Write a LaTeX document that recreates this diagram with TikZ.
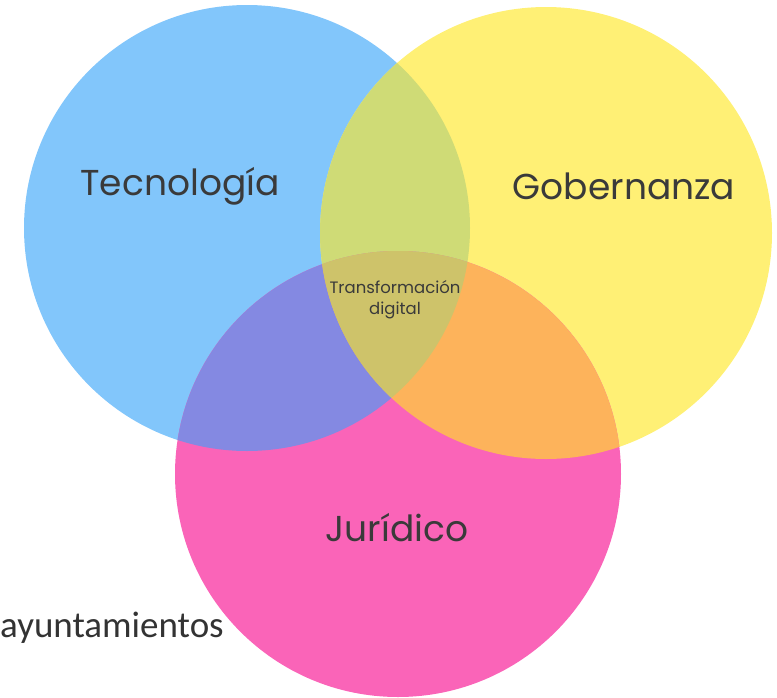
\documentclass[tikz,border=0pt]{standalone}
\usepackage{fontspec}
\setmainfont{Poppins}
\newfontfamily\calibrifont{Carlito}
\usepackage{tikz}
\usetikzlibrary{positioning}

\definecolor{tecblue}{HTML}{82C6FB}
\definecolor{gobyellow}{HTML}{FFF075}
\definecolor{jurpink}{HTML}{FA64B8}
\definecolor{tecgob}{HTML}{CFDB76}
\definecolor{tecjur}{HTML}{8489E2}
\definecolor{gobjur}{HTML}{FDB35B}
\definecolor{allthree}{HTML}{CEC36A}
\definecolor{labelgray}{HTML}{3A3A3A}

\begin{document}
\begin{tikzpicture}[x=1pt,y=-1pt,
		biglabel/.style={text=labelgray,font=\fontsize{36}{36}\selectfont,anchor=base,inner sep=0pt},
		smalllabel/.style={text=labelgray,font=\fontsize{16.5}{16.5}\selectfont,anchor=base,inner sep=0pt}]
		\useasboundingbox (0,0) rectangle (777,697);
		\def\tecc{(247,228) circle (223)}
		\def\gobc{(546,233) circle (226)}
		\def\jurc{(398,474) circle (223)}
		\fill[tecblue] \tecc;
		\fill[gobyellow] \gobc;
		\fill[jurpink] \jurc;
		\begin{scope}%tec y gob
			\clip \tecc;
			\fill[tecgob] \gobc;
		\end{scope}
		\begin{scope}%tec y jur
			\clip \tecc;
			\fill[tecjur] \jurc;
		\end{scope}
		\begin{scope}%gob y jur
			\clip \gobc;
			\fill[gobjur] \jurc;
		\end{scope}
		\begin{scope}%los tres
			\clip \tecc;
			\clip \gobc;
			\fill[allthree] \jurc;
		\end{scope}
		\node[biglabel] (tec) at (180,195) {Tecnología};
		\node[biglabel] (gob) at (624,199) {Gobernanza};
		\node[biglabel] (jur) at (397,541) {Jurídico};
		\node[smalllabel] (trans) at (395,293) {Transformación};
		\node[smalllabel] (dig) at ([yshift=-21pt]trans.base) {digital};
		\node[text=black!80,font=\calibrifont\fontsize{37}{37}\selectfont,anchor=base west,inner sep=0pt] (ayto) at (0,637) {ayuntamientos};
\end{tikzpicture}
\end{document}
